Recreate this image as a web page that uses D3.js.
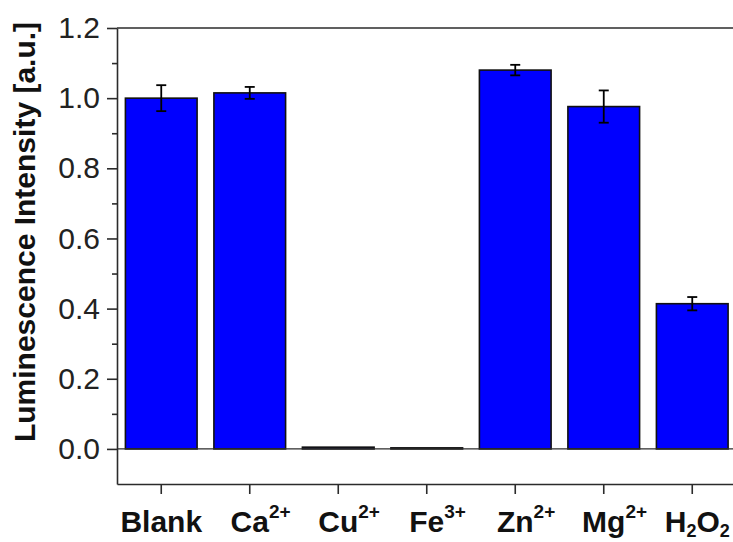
<!DOCTYPE html>
<html>
<head>
<meta charset="utf-8">
<script src="https://cdn.jsdelivr.net/npm/d3@7"></script>
<style>
  html, body { margin: 0; padding: 0; background: #fff; }
  svg { display: block; font-family: "Liberation Sans", Arial, sans-serif; }
</style>
</head>
<body>
<svg id="chart"></svg>
<script>
// data
var categories = ["Blank", "Ca2+", "Cu2+", "Fe3+", "Zn2+", "Mg2+", "H2O2"];
var values = [1.0, 1.015, 0.005, 0.003, 1.08, 0.976, 0.414];
var errors = [0.037, 0.017, 0, 0, 0.015, 0.046, 0.019];
var yTicks = [0.0, 0.2, 0.4, 0.6, 0.8, 1.0, 1.2];
var yMinor = [0.1, 0.3, 0.5, 0.7, 0.9, 1.1];
// label pieces: [text, "sup"|"sub"|null]
var tickLabels = [
  [["Blank", null]],
  [["Ca", null], ["2+", "sup"]],
  [["Cu", null], ["2+", "sup"]],
  [["Fe", null], ["3+", "sup"]],
  [["Zn", null], ["2+", "sup"]],
  [["Mg", null], ["2+", "sup"]],
  [["H", null], ["2", "sub"], ["O", null], ["2", "sub"]]
];

var W = 733, H = 542;
var mLeft = 117, mTop = 28, mBottom = 484, mRight = 736.5;
var axisColor = "#2b2b2b";

var svg = d3.select("#chart").attr("width", W).attr("height", H);

var x = d3.scaleBand()
  .domain(categories)
  .range([mLeft, mRight])
  .paddingInner(0.19)
  .paddingOuter(0.095);

var y = d3.scaleLinear()
  .domain([-0.1, 1.2])
  .range([mBottom, mTop]);

function cx(i) { return x(categories[i]) + x.bandwidth() / 2; }

// frame top / right
svg.append("line")
  .attr("x1", mLeft).attr("x2", mRight)
  .attr("y1", mTop).attr("y2", mTop)
  .attr("stroke", axisColor).attr("stroke-width", 1.6);
svg.append("line")
  .attr("x1", mRight).attr("x2", mRight)
  .attr("y1", mTop).attr("y2", mBottom)
  .attr("stroke", axisColor).attr("stroke-width", 1.6);

// bars
svg.selectAll("rect.bar")
  .data(values)
  .enter().append("rect")
  .attr("class", "bar")
  .attr("x", function(d, i) { return x(categories[i]); })
  .attr("width", x.bandwidth())
  .attr("y", function(d) { return y(d); })
  .attr("height", function(d) { return y(0) - y(d); })
  .attr("fill", "#0000ff")
  .attr("stroke", "#111")
  .attr("stroke-width", 1.6);

// zero line
svg.append("line")
  .attr("x1", mLeft).attr("x2", mRight)
  .attr("y1", y(0)).attr("y2", y(0))
  .attr("stroke", axisColor).attr("stroke-width", 1.4);

// error bars (only where there is an error)
var withErr = d3.range(values.length).filter(function(i) { return errors[i] > 0; });
var eb = svg.selectAll("g.err")
  .data(withErr)
  .enter().append("g")
  .attr("class", "err")
  .attr("stroke", "#000")
  .attr("stroke-width", 1.8);

eb.append("line")
  .attr("x1", cx)
  .attr("x2", cx)
  .attr("y1", function(i) { return y(values[i] + errors[i]); })
  .attr("y2", function(i) { return y(values[i] - errors[i]); });
[1, -1].forEach(function(sgn) {
  eb.append("line")
    .attr("x1", function(i) { return cx(i) - 5; })
    .attr("x2", function(i) { return cx(i) + 5; })
    .attr("y1", function(i) { return y(values[i] + sgn * errors[i]); })
    .attr("y2", function(i) { return y(values[i] + sgn * errors[i]); });
});

// y axis
var yAxis = svg.append("g")
  .attr("transform", "translate(" + mLeft + ",0)")
  .call(d3.axisLeft(y).tickValues(yTicks).tickFormat(d3.format(".1f"))
    .tickSize(10).tickSizeOuter(0).tickPadding(7));
yAxis.selectAll(".tick text")
  .attr("font-size", 30).attr("fill", "#222").attr("font-family", null);
svg.append("g")
  .attr("transform", "translate(" + mLeft + ",0)")
  .call(d3.axisLeft(y).tickValues(yMinor).tickFormat("").tickSize(5).tickSizeOuter(0))
  .select(".domain").remove();

// x axis
var xAxis = svg.append("g")
  .attr("transform", "translate(0," + mBottom + ")")
  .call(d3.axisBottom(x).tickSize(10).tickSizeOuter(0).tickFormat(""));

svg.selectAll(".domain, .tick line")
  .attr("stroke", axisColor).attr("stroke-width", 1.6);

// x tick labels with super/subscripts
tickLabels.forEach(function(parts, i) {
  var t = svg.append("text")
    .attr("y", 532)
    .attr("font-size", 30)
    .attr("font-weight", "bold")
    .attr("fill", "#111");
  var spans = [];
  parts.forEach(function(p) {
    var s = t.append("tspan").text(p[0]);
    if (p[1] === "sup") s.attr("font-size", 19).attr("baseline-shift", "14");
    if (p[1] === "sub") s.attr("font-size", 18).attr("baseline-shift", "-5");
    spans.push(s);
  });
  var w = 0, total = 0;
  spans.forEach(function(s, k) {
    var len = s.node().getComputedTextLength();
    total += len;
    if (k < spans.length - 1 || parts[k][1] === null) w += len;
  });
  var x0 = Math.min(cx(i) - w / 2, W - 3 - total);
  t.attr("x", x0);
});

// y title
svg.append("text")
  .attr("transform", "translate(35," + 232 + ") rotate(-90)")
  .attr("text-anchor", "middle")
  .attr("font-size", 30)
  .attr("font-weight", "bold")
  .attr("fill", "#111")
  .text("Luminescence Intensity [a.u.]");
</script>
</body>
</html>
